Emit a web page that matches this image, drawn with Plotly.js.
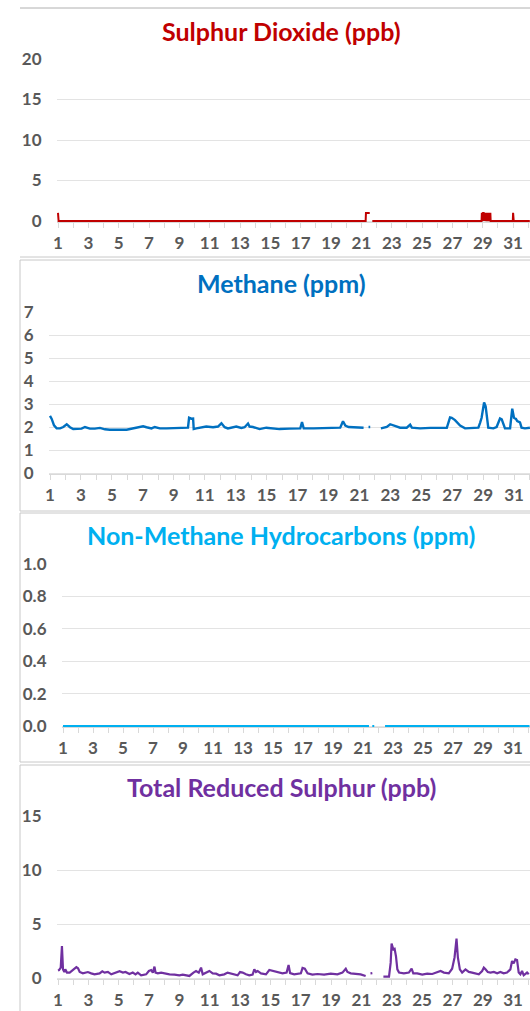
<!DOCTYPE html>
<html><head><meta charset="utf-8">
<script src="https://cdn.plot.ly/plotly-3.0.1.min.js"></script>
<style>html,body{margin:0;padding:0;background:#fff;overflow:hidden}#chart{width:530px;height:1011px}</style>
</head><body><div id="chart"></div>
<script>
// ---- tick labels ----
const dayTicks = [1,3,5,7,9,11,13,15,17,19,21,23,25,27,29,31];
const dayTickLabels = ['1','3','5','7','9','11','13','15','17','19','21','23','25','27','29','31'];
const so2Ticks = [0,5,10,15,20];
const ch4Ticks = [0,1,2,3,4,5,6,7];
const nmhcTicks = [0,0.2,0.4,0.6,0.8,1.0];
const trsTicks = [0,5,10,15];

// ---- Sulphur Dioxide (ppb) ----
const so2Day = [1.0,1.04,21.28,21.3,21.55,21.6,21.72,28.92,28.94,28.98,29.02,29.06,29.1,29.14,29.18,29.22,29.26,29.3,29.34,29.38,29.42,29.46,29.5,29.52,30.98,31.0,31.04,32.1];
const so2Ppb = [1,0,0,1,1,null,0,0,1,0,1,1,0,1,0,1,1,0,1,1,0,1,1,0,0,1,0,0];

// ---- Methane (ppm) ----
const ch4Day = [1.0,1.11,1.26,1.43,1.65,1.86,2.08,2.29,2.5,2.72,3.04,3.26,3.58,3.9,4.23,4.55,4.87,5.95,6.16,6.38,6.81,7.02,7.24,7.56,7.77,8.1,8.53,9.82,9.92,9.99,10.14,10.25,10.29,10.46,10.89,11.1,11.54,11.86,12.08,12.29,12.5,12.83,13.04,13.37,13.58,13.8,13.9,14.12,14.55,14.98,15.4,15.84,16.48,17.18,17.29,17.4,18.04,18.9,19.76,19.94,20.09,20.3,20.73,21.16,21.27,21.45,21.59,21.7,21.9,22.39,22.77,22.99,23.31,23.63,24.06,24.28,24.39,24.92,25.57,26.65,26.86,26.97,27.18,27.51,27.83,28.26,28.69,28.8,28.9,29.06,29.16,29.27,29.33,29.66,29.87,30.09,30.2,30.41,30.74,30.88,30.99,31.12,31.2,31.38,31.48,31.7,32.02];
const ch4Ppm = [2.48,2.35,2.07,1.94,1.94,2.0,2.12,1.99,1.91,1.93,1.93,2.0,1.93,1.93,1.96,1.9,1.88,1.88,1.91,1.94,2.02,2.03,1.99,1.94,2.0,1.94,1.94,1.94,1.97,2.4,2.36,2.37,1.91,1.94,2.0,2.02,1.99,2.02,2.16,1.99,1.94,1.99,2.02,1.96,1.99,2.15,2.02,2.0,1.91,1.97,1.94,1.91,1.93,1.94,2.22,1.94,1.94,1.97,1.97,2.25,2.06,2.0,1.99,1.96,1.97,null,2.0,2.0,null,1.94,2.0,2.12,2.06,1.97,1.97,2.1,1.97,1.94,1.96,1.96,2.42,2.4,2.3,2.06,1.94,1.94,1.97,2.18,2.4,3.07,2.9,2.3,1.97,1.94,2.0,2.37,2.33,1.94,1.94,2.8,2.4,2.35,2.26,2.2,1.97,1.94,1.97];

// ---- Non-Methane Hydrocarbons (ppm) ----
const nmhcDay = [1.0,21.4,21.5,21.62,21.75,21.9,22.47,32.1];
const nmhcPpm = [0,0,null,0,0,null,0,0];

// ---- Total Reduced Sulphur (ppb) ----
const trsDay = [1.0,1.07,1.18,1.26,1.33,1.42,1.48,1.59,1.77,1.99,2.21,2.32,2.43,2.64,2.97,3.19,3.41,3.74,3.92,4.07,4.29,4.51,4.84,5.06,5.28,5.45,5.71,5.93,6.11,6.26,6.48,6.81,6.99,7.14,7.25,7.36,7.43,7.58,7.8,8.02,8.35,8.68,9.0,9.22,9.66,9.93,10.1,10.28,10.43,10.54,10.76,10.98,11.2,11.42,11.64,11.96,12.18,12.51,12.84,13.0,13.17,13.39,13.61,13.83,13.94,14.05,14.16,14.38,14.71,14.93,15.14,15.47,15.8,16.07,16.2,16.3,16.57,17.01,17.12,17.27,17.45,17.77,18.1,18.54,18.98,19.42,19.75,19.97,20.08,20.3,20.62,20.95,21.28,21.45,21.6,21.72,21.9,22.45,22.82,22.93,22.99,23.1,23.19,23.28,23.37,23.48,23.8,24.13,24.31,24.42,24.68,25.01,25.34,25.67,26.0,26.22,26.44,26.76,26.98,27.14,27.27,27.36,27.49,27.64,27.86,28.08,28.3,28.52,28.74,28.96,29.07,29.18,29.33,29.51,29.73,29.95,30.16,30.38,30.6,30.82,30.93,31.04,31.15,31.26,31.37,31.48,31.59,31.7,31.92,32.03];
const trsPpb = [0.7,0.74,0.96,2.96,0.8,0.55,0.8,0.5,0.5,0.74,1.0,0.9,0.56,0.43,0.55,0.43,0.34,0.43,0.62,0.5,0.56,0.34,0.5,0.62,0.5,0.56,0.37,0.5,0.34,0.5,0.25,0.34,0.65,0.74,0.5,1.05,0.5,0.43,0.5,0.43,0.34,0.31,0.25,0.31,0.19,0.5,0.65,0.5,0.96,0.34,0.5,0.65,0.43,0.4,0.25,0.34,0.5,0.34,0.25,0.55,0.5,0.34,0.25,0.31,0.8,0.56,0.65,0.43,0.34,0.74,0.65,0.5,0.43,0.5,1.2,0.45,0.34,0.43,0.93,0.86,0.43,0.31,0.37,0.31,0.4,0.34,0.5,0.86,0.56,0.43,0.4,0.34,0.19,null,0.43,0.45,null,0.12,0.12,1.42,3.2,2.65,2.7,2.0,0.8,0.5,0.43,0.5,0.86,0.43,0.43,0.31,0.4,0.37,0.5,0.65,0.5,0.43,0.86,1.9,3.64,1.9,0.8,0.5,0.8,0.56,0.5,0.43,0.34,0.65,0.96,0.8,0.56,0.5,0.56,0.43,0.56,0.43,0.5,0.8,1.57,1.36,1.73,1.67,0.5,0.34,0.65,0.25,0.5,0.34];

// ---- layout geometry (pixels in the 530x1011 page) ----
const W = 530, H = 1011;
const panels = [
  {title:'Sulphur Dioxide (ppb)', color:'#C00000', x:so2Day, y:so2Ppb, lw:2, ticks:so2Ticks, fmt:'d',
   zeroPx:221, topVal:20, topPx:59, day1Px:58, dayPx:15.17, titlePx:31, box:[8,257], left:false},
  {title:'Methane (ppm)', color:'#0070C0', x:ch4Day, y:ch4Ppm, lw:2.4, ticks:ch4Ticks, fmt:'d',
   zeroPx:473, topVal:7, topPx:312, day1Px:50, dayPx:15.47, titlePx:283, box:[260,511], left:true},
  {title:'Non-Methane Hydrocarbons (ppm)', color:'#00B0F0', x:nmhcDay, y:nmhcPpm, lw:2, ticks:nmhcTicks, fmt:'.1f',
   zeroPx:726, topVal:1, topPx:564, day1Px:63, dayPx:15.0, titlePx:535, box:[513,762], left:true},
  {title:'Total Reduced Sulphur (ppb)', color:'#7030A0', x:trsDay, y:trsPpb, lw:2.2, ticks:trsTicks, fmt:'d',
   zeroPx:978, topVal:15, topPx:816, day1Px:58, dayPx:15.17, titlePx:787, box:[765,1015], left:true}
];

const tickFont = {family:'Lato, "Open Sans", sans-serif', size:17, color:'#595959', weight:'bold'};
const data = [];
const layout = {
  width:W, height:H, margin:{l:0,r:0,t:0,b:0}, paper_bgcolor:'#fff', plot_bgcolor:'rgba(0,0,0,0)',
  showlegend:false, annotations:[], shapes:[]
};

panels.forEach((p,i)=>{
  const n = i===0 ? '' : String(i+1);
  const ppu = (p.zeroPx - p.topPx)/p.topVal;
  const bottomPx = p.zeroPx + 1.2, topPx = p.topPx - 0.6;
  const yLo = -1.2/ppu, yHi = p.topVal + 0.6/ppu;
  const leftPx = p.day1Px - 1.5;
  const xLo = 1 - 1.5/p.dayPx, xHi = 1 + (W - p.day1Px)/p.dayPx;
  data.push({type:'scatter', mode:'lines', x:p.x, y:p.y, xaxis:'x'+n, yaxis:'y'+n,
    line:{color:p.color, width:p.lw, shape:'linear'}, connectgaps:false, hoverinfo:'skip'});
  layout['xaxis'+n] = {domain:[leftPx/W,1], range:[xLo,xHi], anchor:'y'+n,
    tickmode:'array', tickvals:dayTicks, ticktext:dayTickLabels,
    ticks:'outside', ticklen:5, tickcolor:'#D9D9D9', tickwidth:1,
    minor:{tickmode:'linear', tick0:1, dtick:1, ticks:'outside', ticklen:5, tickcolor:'#D9D9D9', tickwidth:1, showgrid:false},
    showline:true, linecolor:'#D9D9D9', linewidth:1, showgrid:false, zeroline:false,
    tickfont:tickFont, ticklabelstandoff:0, fixedrange:true};
  layout['yaxis'+n] = {domain:[1-bottomPx/H, 1-topPx/H], range:[yLo,yHi], anchor:'x'+n,
    tickmode:'array', tickvals:p.ticks, tickformat:p.fmt,
    showgrid:true, gridcolor:'#E3E3E3', gridwidth:1, zeroline:false, showline:false, ticks:'',
    tickfont:tickFont, ticklabelstandoff:14, fixedrange:true};
  layout.annotations.push({xref:'paper', yref:'paper', x:281/W, y:1-p.titlePx/H, xanchor:'center', yanchor:'middle',
    showarrow:false, text:p.title, font:{family:'Lato, "Open Sans", sans-serif', size:25, color:p.color, weight:'bold'}});
  if (p.left) {
    layout.shapes.push({type:'rect', xref:'paper', yref:'paper', x0:20/W, x1:560/W, y0:1-p.box[1]/H, y1:1-p.box[0]/H,
      line:{color:'#C8C8C8', width:1}, fillcolor:'rgba(0,0,0,0)', layer:'below'});
  } else {
    layout.shapes.push({type:'line', xref:'paper', yref:'paper', x0:20/W, x1:560/W, y0:1-p.box[0]/H, y1:1-p.box[0]/H,
      line:{color:'#B0B0B0', width:1}, layer:'below'});
    layout.shapes.push({type:'line', xref:'paper', yref:'paper', x0:20/W, x1:560/W, y0:1-p.box[1]/H, y1:1-p.box[1]/H,
      line:{color:'#C8C8C8', width:1}, layer:'below'});
  }
});

Plotly.newPlot('chart', data, layout, {displayModeBar:false, staticPlot:true});
</script></body></html>
